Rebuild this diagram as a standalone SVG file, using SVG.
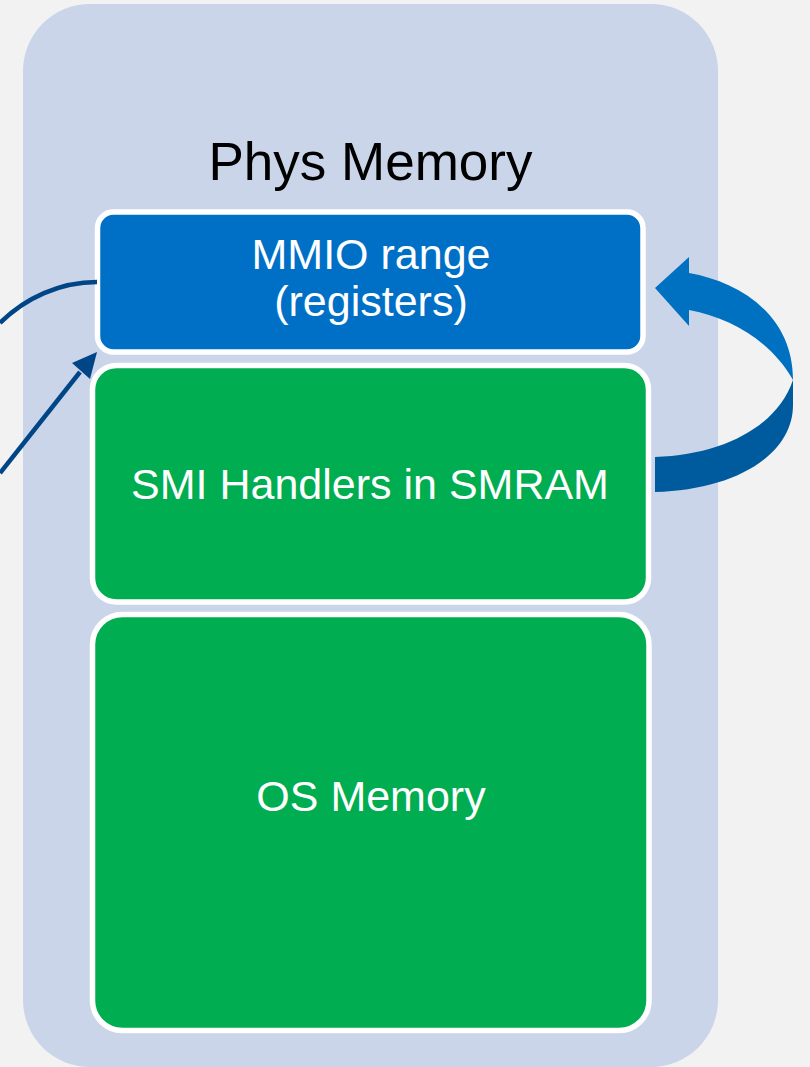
<svg xmlns="http://www.w3.org/2000/svg" width="810" height="1067" viewBox="0 0 810 1067">
<style>
.box{stroke:#FFFFFF;stroke-width:5.5}
.lbl{font-family:"Liberation Sans",Arial,sans-serif;font-size:43px;fill:#FFFFFF;text-anchor:middle}
.conn{fill:none;stroke:#004586;stroke-width:4.5}
</style>
<rect x="0" y="0" width="810" height="1067" fill="#F2F2F2"/>
<g id="phys-memory">
<rect x="23" y="4" width="695" height="1063" rx="67" fill="#CAD5EA"/>
<text x="370.5" y="180" style="font-family:'Liberation Sans',Arial,sans-serif;font-size:53px;fill:#000000;text-anchor:middle">Phys Memory</text>
</g>
<g id="mmio">
<rect class="box" x="97.5" y="212" width="545.5" height="140" rx="16" fill="#0070C6"/>
<text class="lbl" x="371" y="269">MMIO range</text>
<text class="lbl" x="371" y="316">(registers)</text>
</g>
<g id="smi">
<rect class="box" x="92.5" y="365.5" width="556" height="236.5" rx="24" fill="#00AD50"/>
<text class="lbl" x="370" y="499">SMI Handlers in SMRAM</text>
</g>
<g id="os">
<rect class="box" x="92.5" y="614.5" width="556.5" height="416" rx="30" fill="#00AD50"/>
<text class="lbl" x="371" y="811">OS Memory</text>
</g>
<g id="connectors">
<path class="conn" d="M97,282 C60,282 25,298 0,323"/>
<path class="conn" d="M0,473 L80,372"/>
<polygon points="97,352 72,363 90,379" fill="#004586"/>
<path d="M689,273 C740,282 793,315 793,380 C772,343 733,318 689,310 Z" fill="#0070C0"/>
<polygon points="689,257 655,288 689,326" fill="#0070C0"/>
<path d="M793,380 L793,405 C793,455 735,490 655,492 L655,457 C725,455 778,425 793,380 Z" fill="#005A9E"/>
</g>
</svg>
